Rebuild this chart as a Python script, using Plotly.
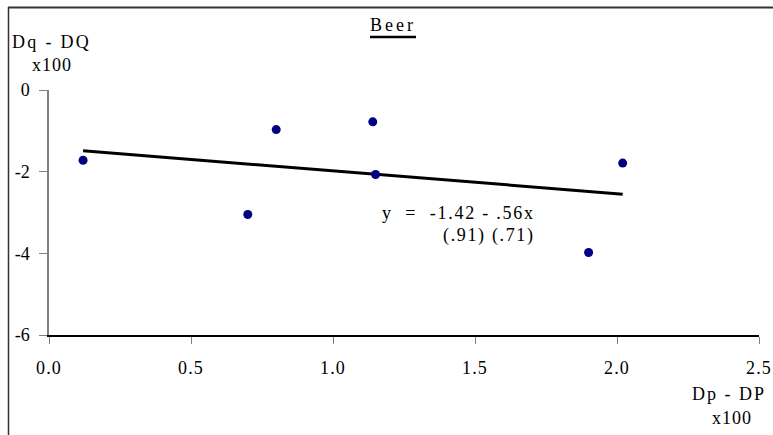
import plotly.graph_objects as go

# Observations: price deviation vs quantity deviation (both x100)
price_dev = [0.12, 0.70, 0.80, 1.14, 1.15, 1.90, 2.02]
qty_dev = [-1.72, -3.05, -0.97, -0.78, -2.07, -3.98, -1.79]

# Fitted regression: y = a + b x, standard errors in parentheses
intercept = -1.42
slope = -0.56
se_intercept = ".91"
se_slope = ".71"

x_ticks = [0.0, 0.5, 1.0, 1.5, 2.0, 2.5]
x_tick_labels = ["0.0", "0.5", "1.0", "1.5", "2.0", "2.5"]
y_ticks = [0, -2, -4, -6]
y_tick_labels = ["0", "-2", "-4", "-6"]

W, H = 773, 435
ML, MR, MT, MB = 49, 14, 90, 100
PW, PH = W - ML - MR, H - MT - MB

FONT = "Liberation Serif"


def sp(text, ls=1.2):
    return f'<span style="letter-spacing:{ls}px">{text}</span>'


def px_x(p):
    return (p - ML) / PW


def px_y(p):
    return (H - MB - p) / PH


fit_x = [min(price_dev), max(price_dev)]
fit_y = [intercept + slope * v for v in fit_x]

fig = go.Figure()
fig.add_trace(go.Scatter(
    x=fit_x, y=fit_y, mode="lines",
    line=dict(color="black", width=3), showlegend=False, hoverinfo="skip"))
fig.add_trace(go.Scatter(
    x=price_dev, y=qty_dev, mode="markers",
    marker=dict(color="#000080", size=9, line=dict(width=0)),
    showlegend=False))

fig.update_layout(
    width=W, height=H, autosize=False,
    margin=dict(l=ML, r=MR, t=MT, b=MB, autoexpand=False),
    paper_bgcolor="white", plot_bgcolor="white",
    font=dict(family=FONT, size=18, color="black"),
    xaxis=dict(
        range=[0, 2.5], tickvals=x_ticks,
        ticktext=[sp(t) for t in x_tick_labels],
        showgrid=False, zeroline=False, automargin=False,
        showline=True, linecolor="black", linewidth=1.5,
        ticks="outside", ticklen=7, tickcolor="#808080", tickwidth=1,
        ticklabelstandoff=9,
    ),
    yaxis=dict(
        range=[-6, 0], tickvals=y_ticks,
        ticktext=y_tick_labels,
        showgrid=False, zeroline=False, automargin=False,
        showline=True, linecolor="#808080", linewidth=1.5,
        ticks="outside", ticklen=8, tickcolor="#808080", tickwidth=1,
        ticklabelstandoff=6,
    ),
)

ann = [
    # chart title
    dict(x=px_x(393), y=px_y(25), text=sp("Beer", 3), xanchor="center", yanchor="middle"),
    # y-axis title
    dict(x=px_x(10), y=px_y(42), text=sp("Dq - DQ", 2.3), xanchor="left", yanchor="middle"),
    dict(x=px_x(30), y=px_y(65), text=sp("x100", 1), xanchor="left", yanchor="middle"),
    # x-axis title
    dict(x=px_x(768), y=px_y(394), text=sp("Dp - DP", 2), xanchor="right", yanchor="middle"),
    dict(x=px_x(754), y=px_y(418), text=sp("x100", 1), xanchor="right", yanchor="middle"),
]
for a in ann:
    a.update(xref="paper", yref="paper", showarrow=False)
    fig.add_annotation(**a)

# regression equation
eq_x = 1.72
fig.add_annotation(x=eq_x, y=-3.0, xref="x", yref="y", showarrow=False,
                   xanchor="right", yanchor="middle",
                   text=sp(f"y &nbsp;= &nbsp;{intercept:.2f} - {str(abs(slope))[1:]}x", 1.75))
fig.add_annotation(x=eq_x, y=-3.57, xref="x", yref="y", showarrow=False,
                   xanchor="right", yanchor="middle",
                   text=sp(f"({se_intercept}) ({se_slope})", 1.65))

# title underline and outer frame
fig.add_shape(type="line", xref="paper", yref="paper",
              x0=px_x(370), x1=px_x(416), y0=px_y(37), y1=px_y(37),
              line=dict(color="black", width=2.5))
fig.add_shape(type="line", xref="paper", yref="paper",
              x0=px_x(8), x1=px_x(773), y0=px_y(7.5), y1=px_y(7.5),
              line=dict(color="#333333", width=2))
fig.add_shape(type="line", xref="paper", yref="paper",
              x0=px_x(8.5), x1=px_x(8.5), y0=px_y(7), y1=px_y(435),
              line=dict(color="#333333", width=1.5))

fig.write_html("out.html", config={"responsive": False})
